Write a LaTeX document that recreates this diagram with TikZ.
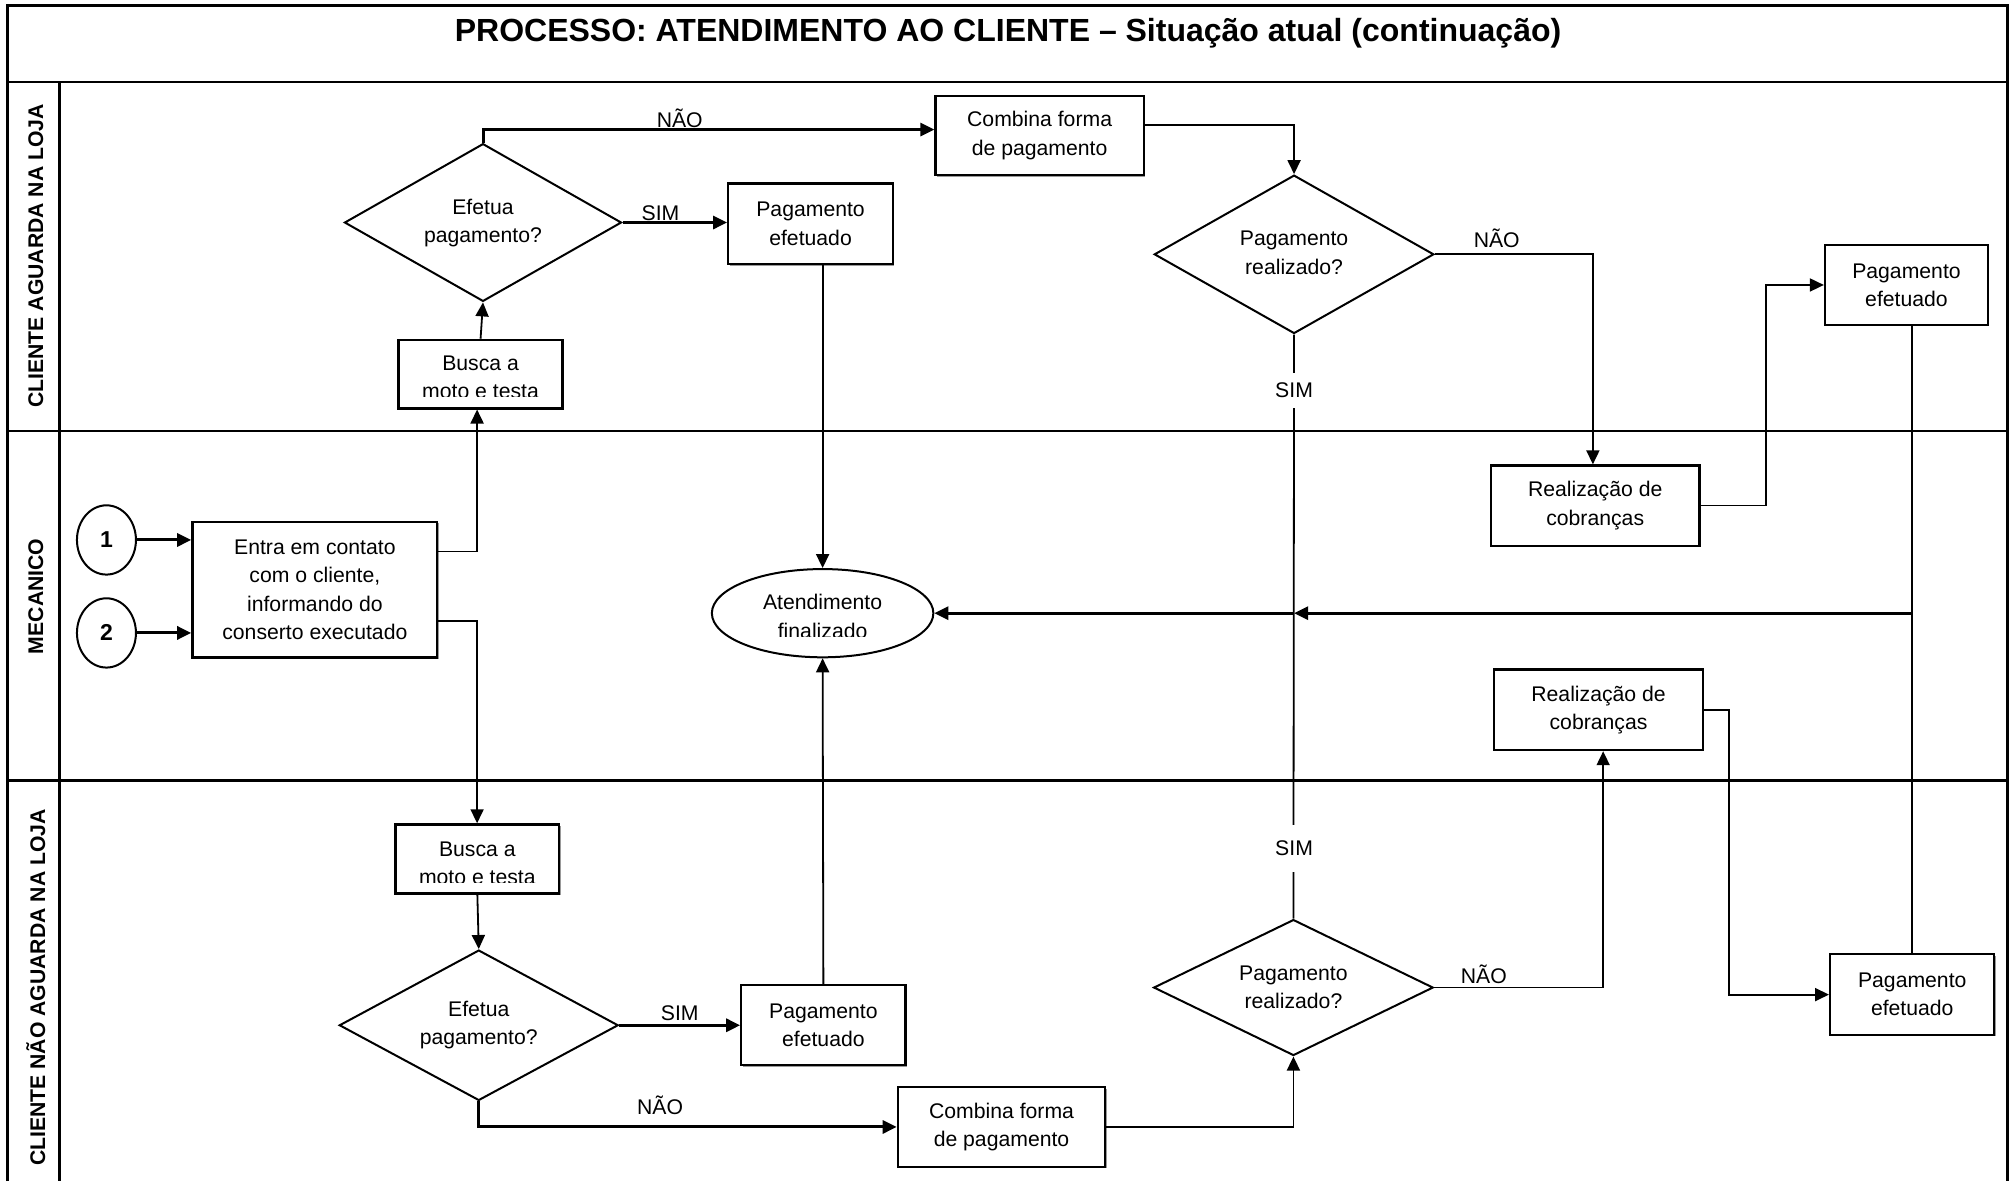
\documentclass[tikz,border=0pt]{standalone}
\usepackage{fontspec}
\setmainfont{Liberation Sans}
\usetikzlibrary{shapes.geometric,arrows.meta,calc,shadows}
\newlength\px
\setlength\px{0.6413pt}
\newcommand{\liftlines}[1]{\raisebox{2.6pt}{\begin{tabular}{@{}c@{}}#1\end{tabular}}}

\begin{document}
\begin{tikzpicture}[x=0.6413pt,y=-0.6413pt,
  txt/.style={font=\fontsize{10.6}{14.1}\selectfont},
  softshadow/.style={general shadow={shadow xshift=0.7pt, shadow yshift=-0.7pt, fill=black!40}},
  box/.style={draw, line width=1.15pt, fill=white, softshadow, rectangle, inner sep=0pt, align=center, txt},
  dia/.style={draw, line width=1pt, diamond, inner sep=0pt, align=center, txt},
  oval/.style={draw, line width=1pt, ellipse, inner sep=0pt, align=center, txt},
  conn/.style={line width=0.9pt},
  arr/.style={conn, -{Triangle[length=7pt,width=6.5pt]}},
  arrb/.style={line width=1.5pt, -{Triangle[length=7pt,width=6.5pt]}},
  lbl/.style={txt, inner sep=1pt},
  gap/.style={txt, fill=white, inner xsep=2pt},
  lane/.style={line width=1.4pt},
  lanetitle/.style={font=\bfseries\fontsize{10.6}{12}\selectfont, rotate=90},
]
\useasboundingbox (0,0) rectangle (1568,921);

% swimlane frame
\draw[lane] (6,921) -- (6,4) -- (1565,4) -- (1565,921);
\draw[lane] (6,64) -- (1565,64);
\draw[lane] (6,336) -- (1565,336);
\draw[lane] (6,608.7) -- (1565,608.7);
\draw[lane] (46.3,64) -- (46.3,921);

\node[font=\bfseries\fontsize{16}{19}\selectfont, anchor=base] (title) at (786,32.5)
  {PROCESSO: ATENDIMENTO AO CLIENTE – Situação atual (continuação)};

\node[lanetitle] (L1) at (28,199.5) {CLIENTE AGUARDA NA LOJA};
\node[lanetitle] (L2) at (28,465) {MECANICO};
\node[lanetitle] (L3) at (28,770) {CLIENTE NÃO AGUARDA NA LOJA};

% lane 1: customer waits in the shop
\node[dia, minimum width=216\px, minimum height=123\px, shape aspect=1.75] (D1) at (376.6,173.5) {\liftlines{Efetua\\pagamento?}};
\node[box, minimum width=127.8\px, minimum height=53.4\px] (B1) at (374.7,291.7) {};
\begin{scope}
  \clip (310.8,265) rectangle (438.6,308.8);
  \node[txt, anchor=base] (B1a) at (374.7,289) {Busca a};
  \node[txt, anchor=base] (B1b) at (374.7,311) {moto e testa};
\end{scope}
\node[box, minimum width=128.4\px, minimum height=63\px] (P1) at (632,174.5) {Pagamento\\efetuado};
\node[box, minimum width=162.3\px, minimum height=62\px] (C1) at (810.6,105.6) {Combina forma\\de pagamento};
\node[dia, minimum width=218\px, minimum height=123.5\px, shape aspect=1.77] (D2) at (1009,198.3) {\liftlines{Pagamento\\realizado?}};
\node[box, minimum width=127\px, minimum height=62.4\px] (P2) at (1486.5,222.2) {Pagamento\\efetuado};

% lane 2: mechanic
\node[oval, minimum width=46\px, minimum height=54\px, font=\bfseries\fontsize{11.5}{13}\selectfont] (c1) at (83,421) {1};
\node[oval, minimum width=46\px, minimum height=54\px, font=\bfseries\fontsize{11.5}{13}\selectfont] (c2) at (83,493.5) {2};
\node[box, minimum width=191\px, minimum height=105.5\px] (E) at (245.5,459.8)
  {Entra em contato\\com o cliente,\\informando do\\conserto executado};
\node[oval, minimum width=172.7\px, minimum height=68.8\px] (F) at (641.4,478.1) {};
\begin{scope}
  \clip (560,450) rectangle (725,496.6);
  \node[txt, anchor=base] (Fa) at (641.4,475.5) {Atendimento};
  \node[txt, anchor=base] (Fb) at (641.4,497.8) {finalizado};
\end{scope}
\node[box, minimum width=162.4\px, minimum height=62.5\px] (R1) at (1243.8,394.2) {Realização de\\cobranças};
\node[box, minimum width=162.7\px, minimum height=62.9\px] (R2) at (1246.4,553.4) {Realização de\\cobranças};

% lane 3: customer does not wait
\node[box, minimum width=127.8\px, minimum height=53.8\px] (B2) at (372.2,669.7) {};
\begin{scope}
  \clip (308.3,642.8) rectangle (436.1,688);
  \node[txt, anchor=base] (B2a) at (372.2,667.5) {Busca a};
  \node[txt, anchor=base] (B2b) at (372.2,689.8) {moto e testa};
\end{scope}
\node[dia, minimum width=217.5\px, minimum height=117.3\px, shape aspect=1.85] (D3) at (373.3,799.4) {Efetua\\pagamento?};
\node[box, minimum width=128\px, minimum height=62.5\px] (P4) at (642,799.3) {Pagamento\\efetuado};
\node[box, minimum width=161.7\px, minimum height=62\px] (C2) at (780.9,878.7) {Combina forma\\de pagamento};
\node[dia, minimum width=218\px, minimum height=106\px, shape aspect=2.05] (D4) at (1008.5,770) {Pagamento\\realizado?};
\node[box, minimum width=128\px, minimum height=63\px] (P3) at (1491,775.5) {Pagamento\\efetuado};

% connectors
\draw[arrb] (c1.east) -- (c1.east -| E.west);
\draw[arrb] (c2.east) -- (c2.east -| E.west);
\draw[arr] (E.east |- 0,430) -| (B1.south -| 372,0);
\draw[arr] (E.east |- 0,484) -| (B2.north -| 372,0);
\draw[arr] (B1.north) -- (D1.south);
\draw[arrb] (D1.north) |- (C1.west |- 0,101);
\node[lbl] (n1) at (530,92) {NÃO};
\draw[arrb] (D1.east) -- (D1.east -| P1.west);
\node[lbl] (s1) at (515,166) {SIM};
\draw[arr] (C1.east |- 0,97.5) -| (D2.north);
\draw[arr] (D2.east) -| (R1.north -| 1242,0);
\node[lbl] (n2) at (1167,186) {NÃO};
\draw[conn] (D2.south) -- (D4.north);
\node[gap, inner ysep=5pt] (s2) at (1009,304.5) {SIM};
\node[gap, inner ysep=8pt] (s3) at (1009,661.5) {SIM};
\coordinate (J) at (D2.south |- F.east);
\coordinate (K) at (P3.north |- F.east);
\draw[conn] (P2.south -| P3.north) -- (P3.north);
\draw[arrb] (K) -- (J);
\draw[arrb] (J) -- (F.east);
\draw[arr] (R1.east) -- (R1.east -| 1377,0) |- (P2.west);
\draw[arr] (P1.south -| F.north) -- (F.north);
\draw[arr] (P4.north) -- (F.south);
\draw[arr] (R2.east) -- (R2.east -| 1348,0) |- (P3.west);
\draw[arr] (B2.south) -- (D3.north);
\draw[arrb] (D3.east) -- (D3.east -| P4.west);
\node[lbl] (s4) at (530,790) {SIM};
\draw[arrb] (D3.south) |- (C2.west);
\node[lbl] (n3) at (514.7,861.6) {NÃO};
\draw[arr] (C2.east) -| (D4.south);
\draw[arr] (D4.east) -| (R2.south -| 1250,0);
\node[lbl] (n4) at (1157,760) {NÃO};
\end{tikzpicture}
\end{document}
